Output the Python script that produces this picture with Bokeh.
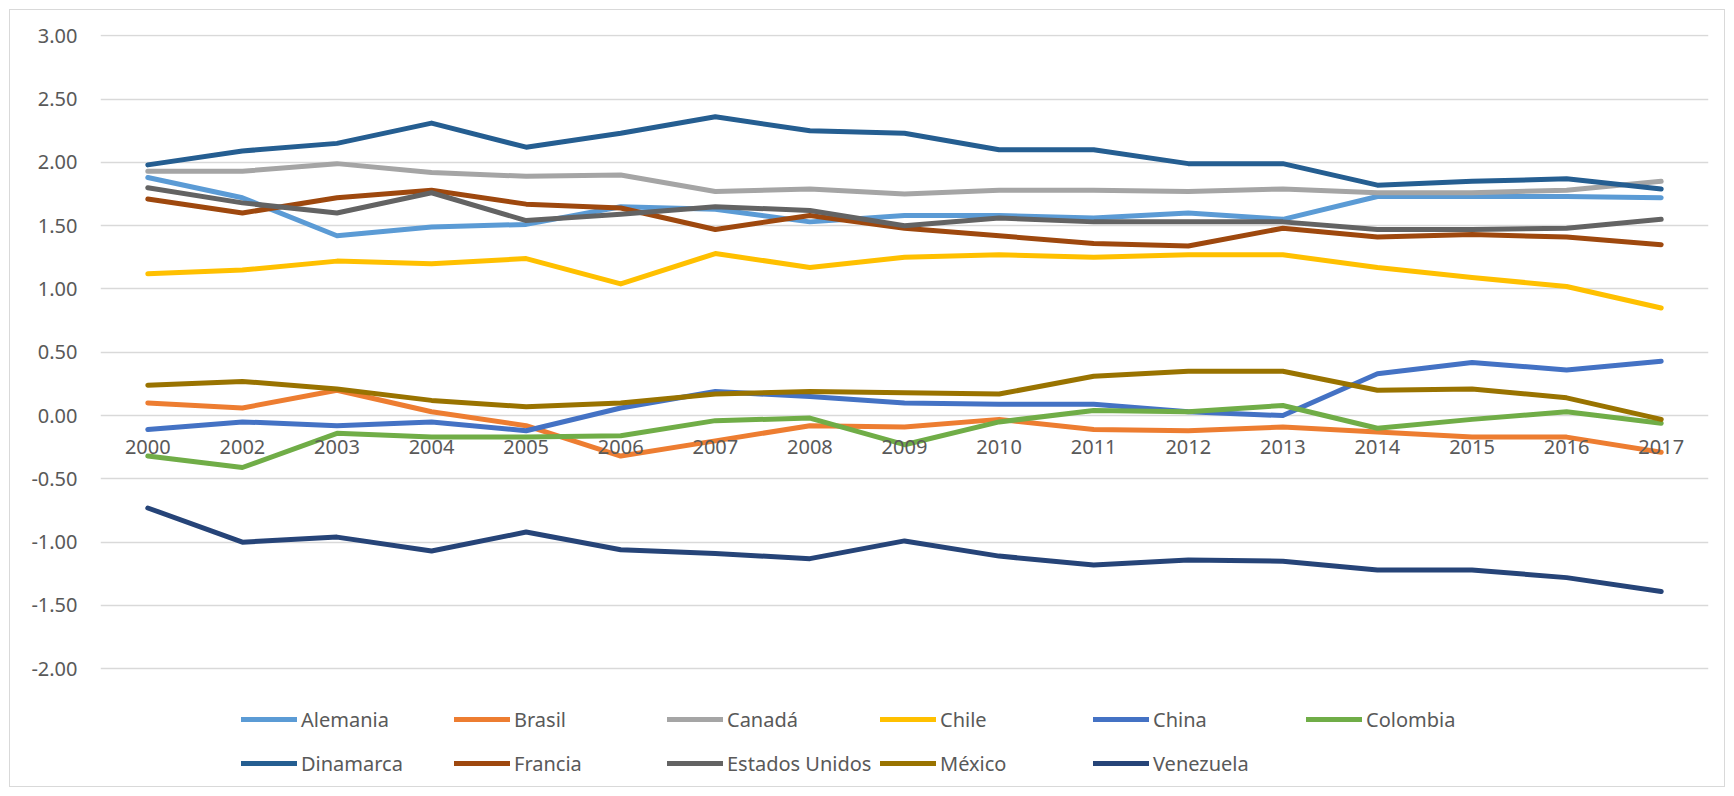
from bokeh.plotting import figure
from bokeh.models import Range1d, FactorRange, FixedTicker, NumeralTickFormatter, Legend, LegendItem
from bokeh.embed import file_html
from bokeh.resources import INLINE

years = ["2000", "2002", "2003", "2004", "2005", "2006", "2007", "2008", "2009",
         "2010", "2011", "2012", "2013", "2014", "2015", "2016", "2017"]

alemania = [1.88, 1.72, 1.42, 1.49, 1.51, 1.65, 1.63, 1.53, 1.58, 1.58, 1.56, 1.60, 1.55, 1.73, 1.73, 1.73, 1.72]
brasil = [0.10, 0.06, 0.20, 0.03, -0.08, -0.32, -0.20, -0.08, -0.09, -0.03, -0.11, -0.12, -0.09, -0.13, -0.17, -0.17, -0.29]
canada = [1.93, 1.93, 1.99, 1.92, 1.89, 1.90, 1.77, 1.79, 1.75, 1.78, 1.78, 1.77, 1.79, 1.76, 1.76, 1.78, 1.85]
chile = [1.12, 1.15, 1.22, 1.20, 1.24, 1.04, 1.28, 1.17, 1.25, 1.27, 1.25, 1.27, 1.27, 1.17, 1.09, 1.02, 0.85]
china = [-0.11, -0.05, -0.08, -0.05, -0.12, 0.06, 0.19, 0.15, 0.10, 0.09, 0.09, 0.03, 0.00, 0.33, 0.42, 0.36, 0.43]
colombia = [-0.32, -0.41, -0.14, -0.17, -0.17, -0.16, -0.04, -0.02, -0.23, -0.05, 0.04, 0.03, 0.08, -0.10, -0.03, 0.03, -0.06]
dinamarca = [1.98, 2.09, 2.15, 2.31, 2.12, 2.23, 2.36, 2.25, 2.23, 2.10, 2.10, 1.99, 1.99, 1.82, 1.85, 1.87, 1.79]
francia = [1.71, 1.60, 1.72, 1.78, 1.67, 1.64, 1.47, 1.58, 1.48, 1.42, 1.36, 1.34, 1.48, 1.41, 1.43, 1.41, 1.35]
estados_unidos = [1.80, 1.68, 1.60, 1.76, 1.54, 1.59, 1.65, 1.62, 1.50, 1.56, 1.53, 1.53, 1.53, 1.47, 1.47, 1.48, 1.55]
mexico = [0.24, 0.27, 0.21, 0.12, 0.07, 0.10, 0.17, 0.19, 0.18, 0.17, 0.31, 0.35, 0.35, 0.20, 0.21, 0.14, -0.03]
venezuela = [-0.73, -1.00, -0.96, -1.07, -0.92, -1.06, -1.09, -1.13, -0.99, -1.11, -1.18, -1.14, -1.15, -1.22, -1.22, -1.28, -1.39]

names = ["Alemania", "Brasil", "Canadá", "Chile", "China", "Colombia",
         "Dinamarca", "Francia", "Estados Unidos", "México", "Venezuela"]
values = [alemania, brasil, canada, chile, china, colombia,
          dinamarca, francia, estados_unidos, mexico, venezuela]
colors = ["#5B9BD5", "#ED7D31", "#A5A5A5", "#FFC000", "#4472C4", "#70AD47",
          "#255E91", "#9E480E", "#636363", "#997300", "#264478"]

y_ticks = [-2.0, -1.5, -1.0, -0.5, 0.0, 0.5, 1.0, 1.5, 2.0, 2.5, 3.0]

FONT = "Noto Sans"
TXT = "#595959"

p = figure(width=1734, height=796,
           x_range=FactorRange(*years, range_padding=0),
           y_range=Range1d(-2.993, 3.01),
           output_backend="svg", toolbar_location=None,
           min_border_left=100, min_border_right=26,
           min_border_top=34, min_border_bottom=2)
p.outline_line_color = None
p.background_fill_color = None
p.border_fill_color = None
p.styles = {"outline": "1px solid #D9D9D9", "outline-offset": "-10px",
            "background-color": "white"}

renderers = []
for name, vals, col in zip(names, values, colors):
    r = p.line(years, vals, line_width=5, line_color=col,
               line_join="round", line_cap="round")
    renderers.append(r)

# y axis
p.yaxis.ticker = FixedTicker(ticks=y_ticks)
p.yaxis.formatter = NumeralTickFormatter(format="0.00")
p.yaxis.axis_line_color = None
p.yaxis.major_tick_line_color = None
p.yaxis.minor_tick_line_color = None
p.yaxis.major_tick_out = 0
p.yaxis.major_tick_in = 0
p.yaxis.major_label_standoff = 23
p.yaxis.major_label_text_font = FONT
p.yaxis.major_label_text_font_size = "20px"
p.yaxis.major_label_text_color = TXT

# x axis at y = 0
p.xaxis.fixed_location = 0
p.xaxis.axis_line_color = None
p.xaxis.major_tick_line_color = None
p.xaxis.minor_tick_line_color = None
p.xaxis.major_tick_out = 0
p.xaxis.major_tick_in = 0
p.xaxis.major_label_standoff = 24
p.xaxis.major_label_text_font = FONT
p.xaxis.major_label_text_font_size = "20px"
p.xaxis.major_label_text_color = TXT

p.xgrid.grid_line_color = None
p.ygrid.grid_line_color = "#D9D9D9"
p.ygrid.grid_line_width = 1.5

legend = Legend(items=[LegendItem(label=n, renderers=[r]) for n, r in zip(names, renderers)],
                orientation="horizontal", ncols=6, location=(141, 9),
                glyph_width=56, glyph_height=44, label_height=44, label_width=153,
                label_standoff=4, spacing=0, padding=0, margin=0,
                label_text_font=FONT, label_text_font_size="20px",
                label_text_color=TXT, border_line_color=None,
                background_fill_alpha=0)
p.add_layout(legend)

open("out.html", "w").write(file_html(p, INLINE))
